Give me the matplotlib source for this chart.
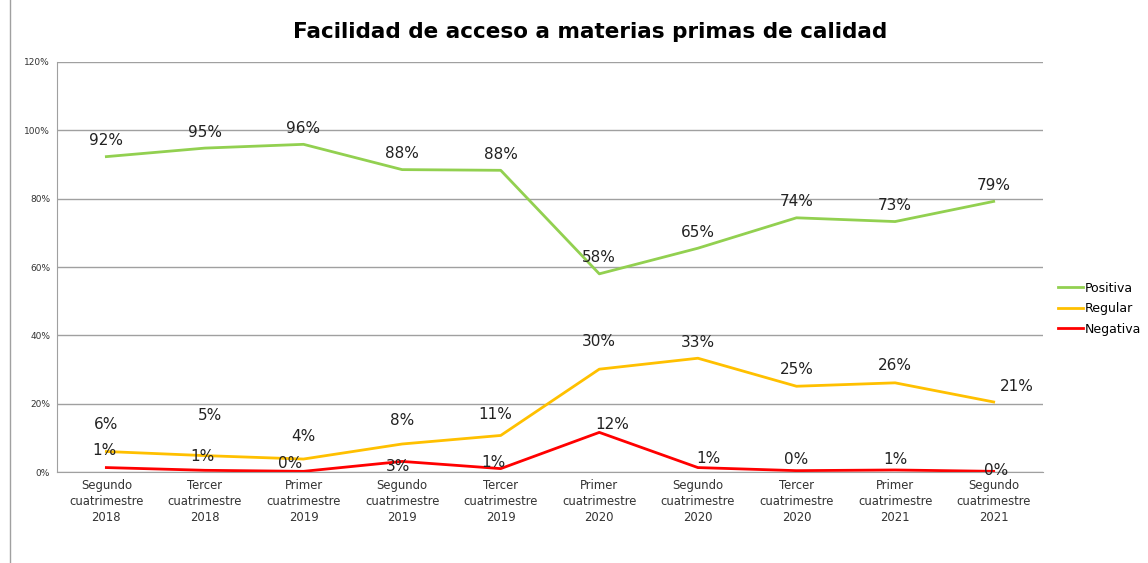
import matplotlib.pyplot as plt
from matplotlib.lines import Line2D

plt.rcParams['font.family'] = ['DejaVu Sans']

categorias = ['Segundo\ncuatrimestre\n2018', 'Tercer\ncuatrimestre\n2018',
              'Primer\ncuatrimestre\n2019', 'Segundo\ncuatrimestre\n2019',
              'Tercer\ncuatrimestre\n2019', 'Primer\ncuatrimestre\n2020',
              'Segundo\ncuatrimestre\n2020', 'Tercer\ncuatrimestre\n2020',
              'Primer\ncuatrimestre\n2021', 'Segundo\ncuatrimestre\n2021']
positiva = [92.3, 94.8, 95.9, 88.5, 88.3, 58.0, 65.5, 74.4, 73.3, 79.2]
regular = [6.0, 4.8, 3.8, 8.2, 10.7, 30.1, 33.3, 25.1, 26.1, 20.5]
negativa = [1.3, 0.5, 0.2, 3.1, 1.0, 11.6, 1.3, 0.4, 0.6, 0.2]
etiq_pos = ['92%', '95%', '96%', '88%', '88%', '58%', '65%', '74%', '73%', '79%']
etiq_reg = ['6%', '5%', '4%', '8%', '11%', '30%', '33%', '25%', '26%', '21%']
etiq_neg = ['1%', '1%', '0%', '3%', '1%', '12%', '1%', '0%', '1%', '0%']

# label offsets in pixels (dx, dy)
off_pos = [(0, 16)] * 10
off_reg = [(0, 27), (5, 40), (0, 23), (0, 24), (-5, 21), (0, 28), (0, 16), (0, 17), (0, 17), (23, 15)]
off_neg = [(-2, 17), (-3, 14), (-13, 8), (-4, -5), (-7, 6), (13, 8), (11, 9), (0, 11), (0, 10), (2, 1)]

fig = plt.figure(figsize=(11.48, 5.63), dpi=100)
ax = fig.add_axes([0.0497, 0.1616, 0.8588, 0.7283])

x = list(range(len(categorias)))
series = [('Positiva', positiva, '#92D050', etiq_pos, off_pos),
          ('Regular', regular, '#FFC000', etiq_reg, off_reg),
          ('Negativa', negativa, '#FF0000', etiq_neg, off_neg)]
for nombre, vals, color, etiq, offs in series:
    ax.plot(x, vals, color=color, lw=2, label=nombre)
    for xi, v, t, (dx, dy) in zip(x, vals, etiq, offs):
        ax.annotate(t, (xi, v), xytext=(dx, dy), textcoords='offset pixels',
                    ha='center', va='center', fontsize=11, color='#222222')

ax.set_xlim(-0.5, len(categorias) - 0.5)
ax.set_ylim(0, 120)
ax.set_yticks(range(0, 121, 20))
ax.set_yticklabels([f'{v}%' for v in range(0, 121, 20)], fontsize=6.5, color='#333333')
ax.set_xticks(x)
ax.set_xticklabels(categorias, fontsize=8.4, color='#333333', linespacing=1.3)
ax.tick_params(length=0, pad=5)
ax.grid(axis='y', color='#A0A0A0', lw=1)
ax.set_axisbelow(True)
for s in ['top', 'right']:
    ax.spines[s].set_visible(False)
for s in ['left', 'bottom']:
    ax.spines[s].set_color('#A0A0A0')

fig.text(0.514, 0.943, 'Facilidad de acceso a materias primas de calidad',
         ha='center', va='center', fontsize=15.5, fontweight='bold')

handles = [Line2D([], [], color=c, lw=2) for _, _, c, _, _ in series]
fig.legend(handles, [n for n, *_ in series], loc='center left',
           bbox_to_anchor=(0.912, 0.452), frameon=False, fontsize=9,
           handlelength=2.0, handletextpad=0.15, labelspacing=0.6)

fig.add_artist(Line2D([0.009, 0.009], [0.0, 1.0], color='#A0A0A0', lw=1))

fig.savefig('out.png', dpi=100)
